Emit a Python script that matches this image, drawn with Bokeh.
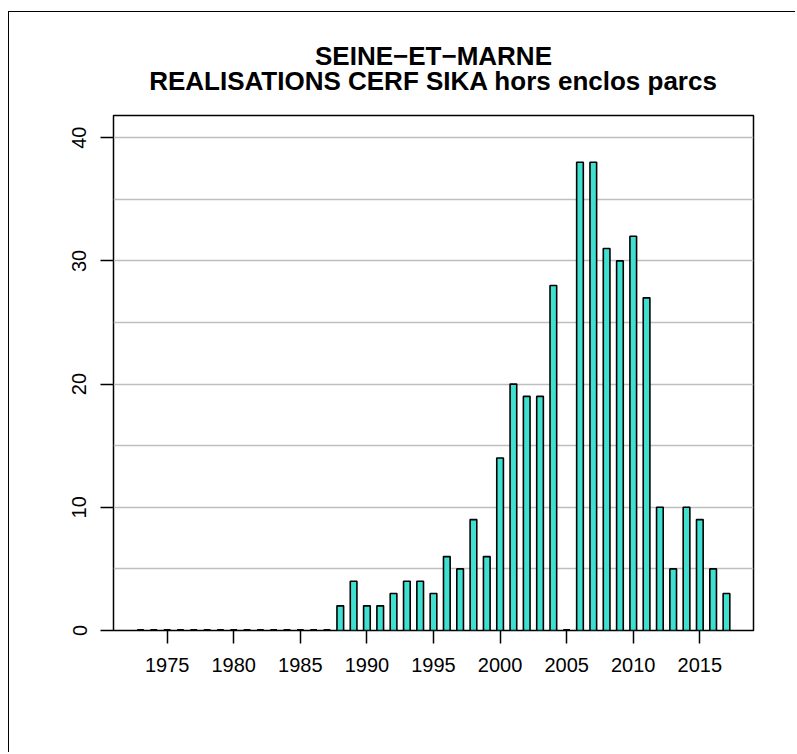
from bokeh.plotting import figure
from bokeh.models import Range1d, FixedTicker, Title
from bokeh.embed import file_html
from bokeh.resources import INLINE

# ---- data ----
years = list(range(1973, 2018))
values = [0, 0, 0, 0, 0, 0, 0, 0, 0, 0, 0, 0, 0, 0, 0,   # 1973-1987
          2, 4, 2, 2, 3, 4, 4, 3, 6, 5, 9, 6,            # 1988-1999
          14, 20, 19, 19, 28, 0, 38, 38, 31, 30, 32, 27,  # 2000-2011
          10, 5, 10, 9, 5, 3]                             # 2012-2017
x_ticks = [1975, 1980, 1985, 1990, 1995, 2000, 2005, 2010, 2015]
y_ticks = [0, 10, 20, 30, 40]
grid_levels = [5, 10, 15, 20, 25, 30, 35, 40]
title_line1 = "SEINE\u2212ET\u2212MARNE"
title_line2 = "REALISATIONS CERF SIKA hors enclos parcs"

FONT = "Liberation Sans"
BAR_W = 0.5

p = figure(width=787, height=741, output_backend="svg", toolbar_location=None,
           x_range=Range1d(1970.97, 2019.03), y_range=Range1d(0, 41.8),
           min_border_left=104, min_border_right=43, min_border_top=103,
           min_border_bottom=123, title=None)

# outer figure border: only its left and top edges fall inside the window
p.styles = {"border-left": "1.5px solid black", "border-top": "1.5px solid black",
            "margin-left": "8px", "margin-top": "11px"}

p.background_fill_color = "white"
p.border_fill_color = "white"
p.outline_line_color = "black"
p.outline_line_width = 1.5

# grid
p.xgrid.visible = False
p.ygrid.ticker = FixedTicker(ticks=grid_levels)
p.ygrid.grid_line_color = "#BEBEBE"
p.ygrid.grid_line_width = 1.5

# bars
p.vbar(x=years, top=values, bottom=0, width=BAR_W, fill_color="#40E0D0",
       line_color="black", line_width=1.6)

# zero-height bars show as short dashes on the baseline
zero_years = [y for y, v in zip(years, values) if v == 0]
p.segment(x0=[y - BAR_W / 2 for y in zero_years], x1=[y + BAR_W / 2 for y in zero_years],
          y0=[0] * len(zero_years), y1=[0] * len(zero_years),
          line_color="black", line_width=3)

# x axis
xa = p.xaxis[0]
xa.ticker = FixedTicker(ticks=x_ticks)
xa.axis_line_color = None
xa.major_tick_in = 0
xa.major_tick_out = 13
xa.major_tick_line_width = 1.5
xa.minor_tick_line_color = None
xa.major_label_standoff = 14
xa.major_label_text_font = FONT
xa.major_label_text_font_size = "20px"
xa.major_label_text_color = "black"

# y axis
ya = p.yaxis[0]
ya.ticker = FixedTicker(ticks=y_ticks)
ya.axis_line_color = None
ya.major_tick_in = 0
ya.major_tick_out = 13
ya.major_tick_line_width = 1.5
ya.minor_tick_line_color = None
ya.major_label_orientation = "vertical"
ya.major_label_standoff = 14
ya.major_label_text_font = FONT
ya.major_label_text_font_size = "20px"
ya.major_label_text_color = "black"

# two-line title, each line centred over the plot box (first added is nearest the box)
t2 = Title(text=title_line2, align="center", text_font=FONT, text_font_size="26px",
           text_font_style="bold", text_color="black", standoff=40)
t1 = Title(text=title_line1, align="center", text_font=FONT, text_font_size="26px",
           text_font_style="bold", text_color="black", standoff=-54)
p.add_layout(t2, "above")
p.add_layout(t1, "above")

open("out.html", "w").write(file_html(p, INLINE))
